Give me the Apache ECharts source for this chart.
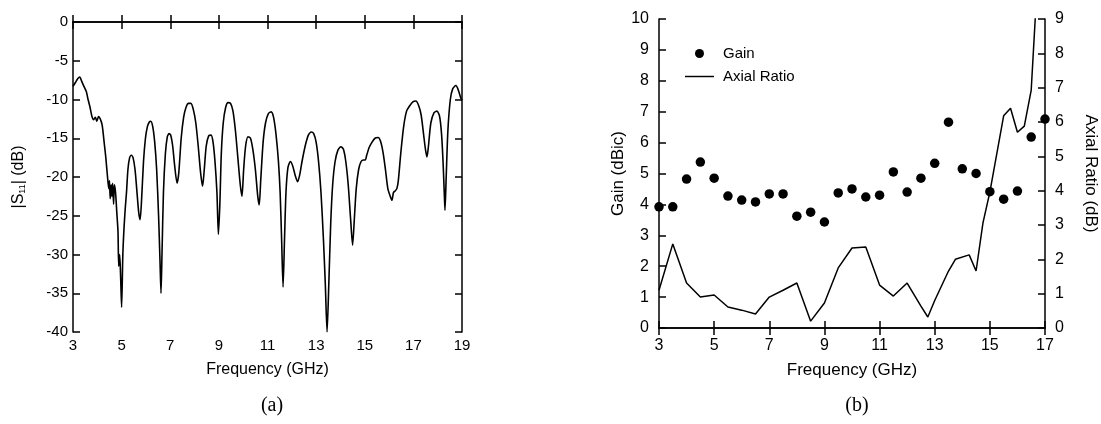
<!DOCTYPE html>
<html>
<head>
<meta charset="utf-8">
<script src="https://cdn.jsdelivr.net/npm/echarts@6/dist/echarts.min.js"></script>
<style>
html,body{margin:0;padding:0;background:#fff;}
#c{width:1101px;height:424px;}
</style>
</head>
<body>
<div id="c"></div>
<script>
// ---------- Data ----------
// (a) |S11| vs frequency: [GHz, dB]
var s11Freq = [3.00,3.10,3.20,3.28,3.35,3.45,3.55,3.62,3.70,3.78,3.85,3.92,3.98,4.05,4.12,4.20,4.28,4.35,4.42,4.47,4.50,4.53,4.57,4.60,4.63,4.67,4.70,4.75,4.80,4.85,4.88,4.92,4.96,5.00,5.05,5.10,5.15,5.20,5.26,5.33,5.40,5.47,5.55,5.62,5.70,5.76,5.82,5.90,5.98,6.06,6.14,6.20,6.28,6.36,6.44,6.52,6.58,6.62,6.66,6.72,6.80,6.88,6.95,7.02,7.10,7.18,7.28,7.35,7.45,7.55,7.65,7.75,7.85,7.95,8.05,8.15,8.25,8.33,8.40,8.48,8.58,8.68,8.76,8.84,8.92,8.98,9.04,9.10,9.18,9.28,9.38,9.48,9.58,9.68,9.78,9.88,9.95,10.02,10.10,10.20,10.30,10.40,10.50,10.60,10.66,10.72,10.82,10.92,11.04,11.15,11.25,11.35,11.45,11.52,11.58,11.64,11.70,11.76,11.84,11.94,12.04,12.14,12.24,12.32,12.42,12.55,12.68,12.80,12.90,13.00,13.10,13.20,13.30,13.38,13.45,13.52,13.60,13.68,13.78,13.90,14.02,14.12,14.22,14.32,14.42,14.50,14.57,14.65,14.75,14.85,14.95,15.02,15.08,15.18,15.30,15.42,15.55,15.65,15.75,15.85,15.95,16.05,16.12,16.18,16.25,16.32,16.38,16.48,16.60,16.72,16.85,16.98,17.10,17.22,17.32,17.42,17.50,17.56,17.62,17.72,17.85,17.97,18.08,18.16,18.22,18.27,18.30,18.35,18.42,18.52,18.62,18.75,18.85,18.95,19.00];
var s11dB = [-8.3,-7.8,-7.3,-7.1,-7.6,-8.3,-9.0,-10.0,-11.0,-12.2,-12.6,-12.3,-12.8,-12.2,-12.5,-13.3,-15.5,-17.5,-20.0,-21.5,-20.5,-22.8,-21.0,-22.5,-20.8,-23.5,-21.0,-22.0,-24.5,-27.0,-31.5,-30.0,-33.0,-36.8,-30.0,-26.5,-24.0,-22.0,-19.0,-17.5,-17.2,-17.5,-19.0,-21.5,-24.5,-25.5,-23.0,-18.0,-15.0,-13.5,-12.9,-12.8,-13.5,-15.5,-19.0,-25.0,-31.0,-35.0,-30.0,-22.0,-17.0,-14.8,-14.4,-14.6,-16.0,-18.5,-20.8,-19.5,-15.0,-12.3,-11.0,-10.5,-10.5,-11.3,-13.0,-16.0,-19.5,-21.2,-19.0,-16.0,-14.7,-14.6,-15.5,-18.0,-22.0,-27.4,-23.5,-17.0,-13.0,-11.0,-10.4,-10.5,-11.5,-14.0,-17.5,-21.0,-22.5,-19.0,-16.0,-14.8,-15.0,-16.5,-19.0,-22.5,-23.6,-20.5,-15.5,-13.0,-11.8,-11.6,-12.3,-14.5,-18.0,-22.0,-28.0,-34.2,-28.0,-22.0,-18.8,-18.0,-18.6,-19.8,-20.6,-19.8,-18.0,-16.0,-14.6,-14.2,-14.4,-15.5,-18.0,-22.0,-28.0,-34.0,-40.0,-34.0,-26.0,-21.0,-18.0,-16.5,-16.1,-16.4,-18.0,-21.0,-25.5,-28.8,-25.5,-21.5,-19.0,-18.0,-17.8,-17.8,-17.2,-16.2,-15.5,-15.0,-14.9,-15.4,-16.8,-19.0,-21.5,-22.5,-23.0,-22.0,-21.8,-21.5,-20.5,-17.0,-13.5,-11.5,-10.8,-10.3,-10.2,-10.8,-12.0,-14.5,-16.5,-17.4,-16.0,-13.0,-11.7,-11.5,-12.2,-14.5,-18.0,-22.0,-24.3,-20.0,-14.0,-10.0,-8.6,-8.2,-8.8,-9.8,-10.1];

// (b) Gain (dBic) vs frequency
var gainFreq = [3,3.5,4,4.5,5,5.5,6,6.5,7,7.5,8,8.5,9,9.5,10,10.5,11,11.5,12,12.5,13,13.5,14,14.5,15,15.5,16,16.5,17];
var gainVal  = [3.92,3.92,4.82,5.37,4.85,4.27,4.14,4.08,4.34,4.34,3.62,3.75,3.43,4.37,4.50,4.24,4.30,5.05,4.40,4.85,5.33,6.66,5.15,5.00,4.41,4.17,4.43,6.18,6.76];

// (b) Axial ratio (dB) vs frequency
var arFreq = [3.0,3.5,4.0,4.5,5.0,5.5,6.0,6.5,7.0,7.5,8.0,8.5,9.0,9.5,10.0,10.5,11.0,11.5,12.0,12.5,12.75,13.0,13.5,13.75,14.25,14.5,14.75,15.0,15.5,15.75,16.0,16.25,16.5,16.75];
var arVal  = [1.1,2.45,1.31,0.9,0.96,0.61,0.52,0.41,0.9,1.1,1.31,0.2,0.73,1.75,2.33,2.36,1.25,0.93,1.31,0.64,0.32,0.8,1.66,2.0,2.13,1.66,3.06,3.96,6.18,6.4,5.7,5.88,6.93,10.5];

var captions = ['(a)', '(b)'];

// ---------- Chart ----------
function zip(a, b) { return a.map(function (v, i) { return [v, b[i]]; }); }
var FONT = 'Arial, "Liberation Sans", sans-serif';
var black = '#000';
var axLine = { show: true, lineStyle: { color: black, width: 1.5 } };
var tickIn = { show: true, inside: true, length: 7, lineStyle: { color: black, width: 1.5 } };

var chart = echarts.init(document.getElementById('c'), null, { renderer: 'canvas' });
chart.setOption({
  backgroundColor: '#fff',
  animation: false,
  textStyle: { fontFamily: FONT, color: black },
  title: [
    { text: captions[0], left: 267, top: 391, textAlign: 'center',
      textStyle: { fontFamily: '"Liberation Serif", "Times New Roman", serif', fontSize: 20, fontWeight: 'normal', color: black } },
    { text: captions[1], left: 852, top: 391, textAlign: 'center',
      textStyle: { fontFamily: '"Liberation Serif", "Times New Roman", serif', fontSize: 20, fontWeight: 'normal', color: black } }
  ],
  legend: {
    orient: 'vertical', left: 685, top: 46, padding: 0, itemWidth: 29, itemHeight: 9, itemGap: 8,
    textStyle: { fontFamily: FONT, fontSize: 15, color: black, padding: [0, 0, 0, 4] },
    data: [
      { name: 'Gain', icon: 'circle' },
      { name: 'Axial Ratio', icon: 'path://M0,0L40,0L40,2L0,2Z' }
    ]
  },
  grid: [
    { left: 73, top: 22, width: 389, height: 310, show: false },
    { left: 659, top: 19, width: 386, height: 309, show: false }
  ],
  xAxis: [
    { gridIndex: 0, type: 'value', position: 'bottom', min: 3, max: 19, interval: 2,
      axisLine: axLine, axisTick: tickIn, splitLine: { show: false },
      axisLabel: { fontSize: 15, color: black, margin: 6, fontFamily: FONT },
      name: 'Frequency (GHz)', nameLocation: 'middle', nameGap: 30,
      nameTextStyle: { fontSize: 16, color: black, fontFamily: FONT } },
    { gridIndex: 0, type: 'value', position: 'top', min: 3, max: 19, interval: 2,
      axisLine: axLine, axisTick: tickIn, axisLabel: { show: false }, splitLine: { show: false } },
    { gridIndex: 1, type: 'value', position: 'bottom', min: 3, max: 17, interval: 2,
      axisLine: axLine, axisTick: tickIn, splitLine: { show: false },
      axisLabel: { fontSize: 16, color: black, margin: 10, fontFamily: FONT },
      name: 'Frequency (GHz)', nameLocation: 'middle', nameGap: 34,
      nameTextStyle: { fontSize: 17, color: black, fontFamily: FONT } },
    { gridIndex: 1, type: 'value', position: 'top', min: 3, max: 17, interval: 2,
      axisLine: axLine, axisTick: tickIn, axisLabel: { show: false }, splitLine: { show: false } }
  ],
  yAxis: [
    { gridIndex: 0, type: 'value', position: 'left', min: -40, max: 0, interval: 5,
      axisLine: axLine, axisTick: tickIn, splitLine: { show: false },
      axisLabel: { fontSize: 15, color: black, margin: 5, fontFamily: FONT },
      name: '|S{sub|11}| (dB)', nameLocation: 'middle', nameGap: 46, nameRotate: 90,
      nameTextStyle: { fontSize: 16, color: black, fontFamily: FONT,
        rich: { sub: { fontSize: 9, verticalAlign: 'bottom', fontFamily: FONT, color: black } } } },
    { gridIndex: 0, type: 'value', position: 'right', min: -40, max: 0, interval: 5,
      axisLine: axLine, axisTick: tickIn, axisLabel: { show: false }, splitLine: { show: false } },
    { gridIndex: 1, type: 'value', position: 'left', min: 0, max: 10, interval: 1,
      axisLine: axLine, axisTick: tickIn, splitLine: { show: false },
      axisLabel: { fontSize: 16, color: black, margin: 10, fontFamily: FONT },
      name: 'Gain (dBic)', nameLocation: 'middle', nameGap: 31, nameRotate: 90,
      nameTextStyle: { fontSize: 17, color: black, fontFamily: FONT } },
    { gridIndex: 1, type: 'value', position: 'right', min: 0, max: 9, interval: 1,
      axisLine: axLine, axisTick: tickIn, splitLine: { show: false },
      axisLabel: { fontSize: 16, color: black, margin: 10, fontFamily: FONT },
      name: 'Axial Ratio (dB)', nameLocation: 'middle', nameGap: 37, nameRotate: -90,
      nameTextStyle: { fontSize: 17, color: black, fontFamily: FONT } }
  ],
  series: [
    { name: 'S11', type: 'line', xAxisIndex: 0, yAxisIndex: 0, data: zip(s11Freq, s11dB),
      symbol: 'none', smooth: 0.25, clip: true,
      lineStyle: { color: black, width: 1.6 } },
    { name: 'Gain', type: 'scatter', xAxisIndex: 2, yAxisIndex: 2, data: zip(gainFreq, gainVal),
      symbol: 'circle', symbolSize: 9.5, clip: false,
      itemStyle: { color: black, opacity: 1 } },
    { name: 'Axial Ratio', type: 'line', xAxisIndex: 2, yAxisIndex: 3, data: zip(arFreq, arVal),
      symbol: 'none', clip: true, itemStyle: { color: black },
      lineStyle: { color: black, width: 1.5 } }
  ]
});
</script>
</body>
</html>
